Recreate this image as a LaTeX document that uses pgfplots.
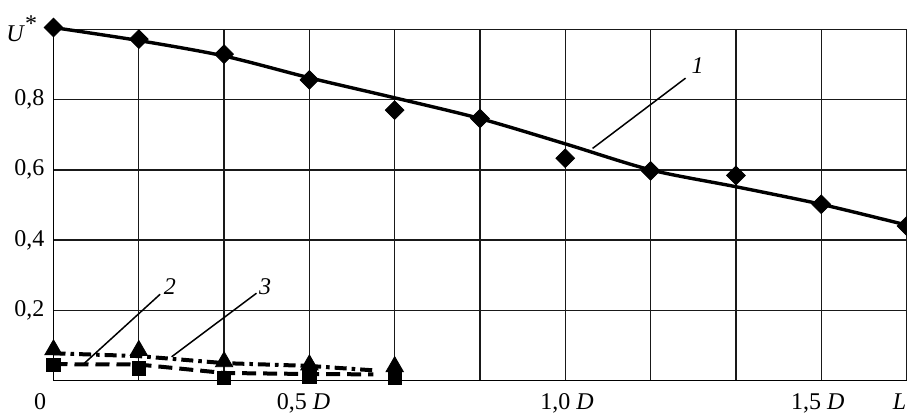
\documentclass[border=0pt]{standalone}
\usepackage{pgfplots}
\pgfplotsset{compat=1.18}
\usepackage{fontspec}
\setmainfont{Liberation Serif}

\pgfplotstableread{
x y
0 1.005
1 0.972
2 0.929
3 0.856
4 0.770
5 0.746
6 0.633
7 0.597
8 0.584
9 0.502
10 0.440
}\curveonemarks

\pgfplotstableread{
x y
0 1.005
1 0.968
2 0.924
3 0.862
4 0.805
5 0.746
6 0.674
7 0.600
8 0.552
9 0.502
10 0.443
}\curveoneline

\pgfplotstableread{
x y
0 0.045
1 0.035
2 0.008
3 0.011
4 0.008
}\curvetwomarks

\pgfplotstableread{
x y
0 0.047
1 0.046
2 0.022
3 0.019
3.75 0.018
}\curvetwoline

\pgfplotstableread{
x y
0 0.088
1 0.086
2 0.054
3 0.045
4 0.040
}\curvethreemarks

\pgfplotstableread{
x y
0 0.078
1 0.070
2 0.050
3 0.042
3.78 0.029
}\curvethreeline

\begin{document}
\begin{tikzpicture}
\begin{axis}[
  at={(0,0)}, anchor=origin,
  scale only axis, width=426.5pt, height=175.7pt,
  xmin=0, xmax=10, ymin=0, ymax=1,
  axis lines=left,
  axis line style={-, line width=0.7pt, black},
  xtick={0,1,...,10}, xticklabels={},
  ytick={0.2,0.4,0.6,0.8,1},
  yticklabels={{0,2},{0,4},{0,6},{0,8},{}},
  grid=major,
  major grid style={black!90, line width=0.65pt},
  major tick length=0pt,
  clip=false,
  tick label style={font=\fontsize{12}{14}\selectfont},
  yticklabel style={xshift=-1pt},
]
% curve 1
\addplot[black, line width=1.7pt, smooth, tension=0.5] table {\curveoneline};
\addplot[only marks, mark=square*, mark size=3.3pt, mark options={rotate=45, fill=black, draw=black}] table {\curveonemarks};
% curve 2 (squares, dashed)
\addplot[black, line width=2pt, dash pattern=on 7pt off 3.5pt] table {\curvetwoline};
\addplot[only marks, mark=square*, mark size=3.3pt, mark options={fill=black, draw=black}] table {\curvetwomarks};
% curve 3 (triangles, dash-dot)
\addplot[black, line width=2pt, dash pattern=on 6pt off 2.5pt on 1.8pt off 2.5pt] table {\curvethreeline};
\addplot[only marks, mark=triangle*, mark size=5pt, mark options={fill=black, draw=black}] table {\curvethreemarks};

% leader lines and curve numbers
\draw[black, line width=0.75pt] (axis cs:6.32,0.661) -- (axis cs:7.41,0.861);
\node[anchor=base, font=\fontsize{12}{14}\selectfont\itshape, inner sep=0pt] at (axis cs:7.55,0.875) {1};
\draw[black, line width=0.75pt] (axis cs:0.35,0.047) -- (axis cs:1.25,0.246);
\node[anchor=base, font=\fontsize{12}{14}\selectfont\itshape, inner sep=0pt] at (axis cs:1.365,0.244) {2};
\draw[black, line width=0.75pt] (axis cs:1.385,0.068) -- (axis cs:2.38,0.249);
\node[anchor=base, font=\fontsize{12}{14}\selectfont\itshape, inner sep=0pt] at (axis cs:2.48,0.244) {3};

% axis labels
\node[anchor=base east, inner sep=0pt, font=\fontsize{12}{14}\selectfont] at ([xshift=-8pt]axis cs:0,0.964) {\textit{U}\raisebox{5pt}{*}};
\node[anchor=base, inner sep=0pt, font=\fontsize{12}{14}\selectfont] at ([yshift=-14.6pt]axis cs:-0.158,0) {0};
\node[anchor=base, inner sep=0pt, font=\fontsize{12}{14}\selectfont] at ([yshift=-14.6pt]axis cs:2.93,0) {0,5 \textit{D}};
\node[anchor=base, inner sep=0pt, font=\fontsize{12}{14}\selectfont] at ([yshift=-14.6pt]axis cs:6.02,0) {1,0 \textit{D}};
\node[anchor=base, inner sep=0pt, font=\fontsize{12}{14}\selectfont] at ([yshift=-14.6pt]axis cs:8.96,0) {1,5 \textit{D}};
\node[anchor=base west, inner sep=0pt, font=\fontsize{12}{14}\selectfont] at ([yshift=-14.6pt, xshift=-7pt]axis cs:10,0) {\textit{L}};
\end{axis}
\pgfresetboundingbox
\path[use as bounding box] (-26.75pt,-16.15pt) rectangle (426.75pt,190.35pt);
\end{tikzpicture}
\end{document}
